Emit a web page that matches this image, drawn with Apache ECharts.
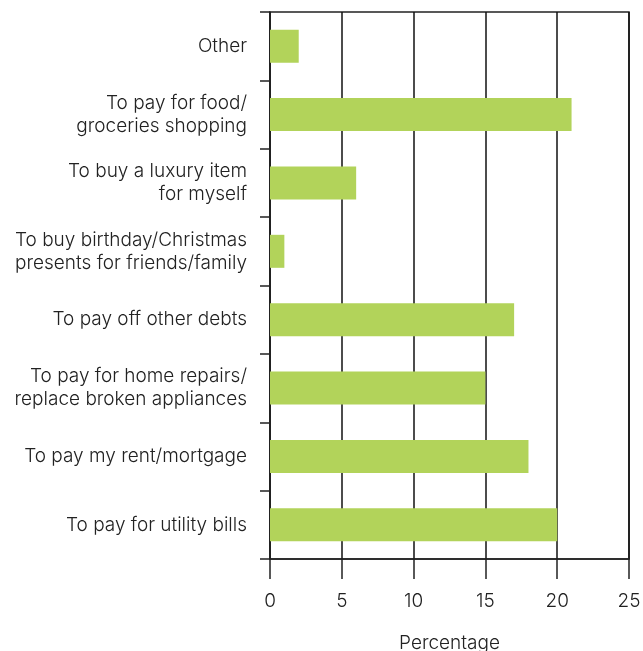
<!DOCTYPE html>
<html>
<head>
<meta charset="utf-8">
<script src="https://cdn.jsdelivr.net/npm/echarts@6/dist/echarts.min.js"></script>
<style>
  html, body { margin: 0; padding: 0; background: #fff; }
  #chart { width: 643px; height: 651px; }
</style>
</head>
<body>
<div id="chart"></div>
<script>
// categories listed top to bottom
const categories = [
  'Other',
  'To pay for food/\ngroceries shopping',
  'To buy a luxury item\nfor myself',
  'To buy birthday/Christmas\npresents for friends/family',
  'To pay off other debts',
  'To pay for home repairs/\nreplace broken appliances',
  'To pay my rent/mortgage',
  'To pay for utility bills'
];
const percentages = [2, 21, 6, 1, 17, 15, 18, 20];
const xTicks = [0, 5, 10, 15, 20, 25];

const textColor = '#222';
const fontFamily = 'Inter, "Liberation Sans", sans-serif';

const chart = echarts.init(document.getElementById('chart'));
chart.setOption({
  animation: false,
  grid: {
    left: 270, right: 14, top: 12, bottom: 92,
    outerBoundsMode: 'none',
    containLabel: false,
    show: true, borderColor: '#222', borderWidth: 1.5
  },
  xAxis: {
    type: 'value',
    min: xTicks[0],
    max: xTicks[xTicks.length - 1],
    interval: 5,
    name: 'Percentage',
    nameLocation: 'middle',
    nameGap: 75,
    nameTextStyle: { color: textColor, fontSize: 19, fontFamily: fontFamily, fontWeight: 300 },
    axisLine: { show: true, lineStyle: { color: '#222', width: 1.5 } },
    axisTick: { show: true, length: 20, lineStyle: { color: '#222', width: 1.5 } },
    axisLabel: { color: textColor, fontSize: 19, fontFamily: fontFamily, fontWeight: 300, margin: 33 },
    splitLine: { show: true, lineStyle: { color: '#111', width: 1.5 } }
  },
  yAxis: {
    type: 'category',
    data: categories,
    inverse: true,
    axisLine: { show: true, lineStyle: { color: '#222', width: 1.5 } },
    axisTick: { show: true, length: 10, lineStyle: { color: '#222', width: 1.5 } },
    axisLabel: {
      color: textColor, fontSize: 19, fontFamily: fontFamily, fontWeight: 300,
      margin: 23, lineHeight: 23, align: 'right'
    },
    splitLine: { show: false }
  },
  series: [{
    type: 'bar',
    data: percentages,
    barWidth: 33,
    itemStyle: { color: '#b2d35a' }
  }]
});
</script>
</body>
</html>
